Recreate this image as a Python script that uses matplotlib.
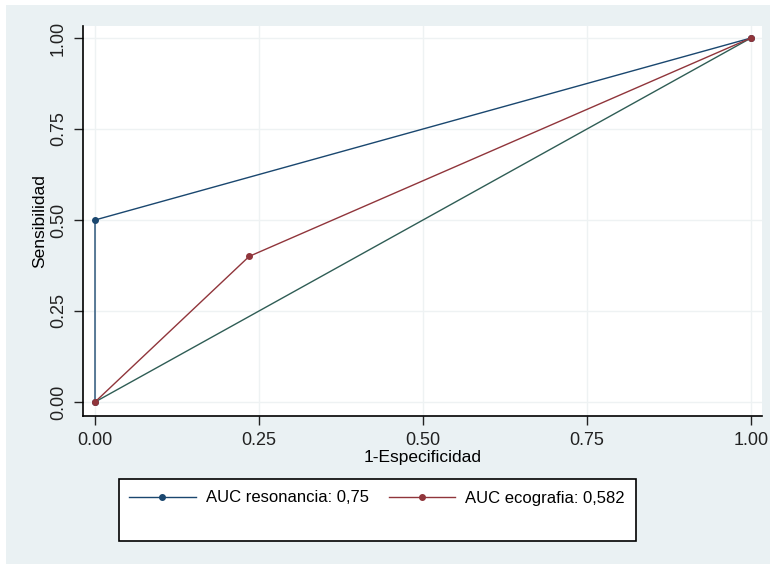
import matplotlib.pyplot as plt
from matplotlib.patches import Rectangle
from matplotlib.lines import Line2D

# ROC data
reso_x = [0.0, 0.0, 1.0]
reso_y = [0.0, 0.5, 1.0]
eco_x = [0.0, 0.235, 1.0]
eco_y = [0.0, 0.4, 1.0]
ref_x = [0.0, 1.0]
ref_y = [0.0, 1.0]
ticks = [0.0, 0.25, 0.5, 0.75, 1.0]
tick_labels = ["0.00", "0.25", "0.50", "0.75", "1.00"]
legend_labels = ["AUC resonancia: 0,75", "AUC ecografia: 0,582"]

navy = "#1a476f"
maroon = "#90353b"
refc = "#2f5d55"
bg = "#eaf1f3"

plt.rcParams["font.family"] = ["Liberation Sans", "DejaVu Sans"]

W, H = 770, 564
fig = plt.figure(figsize=(W / 100, H / 100), dpi=100)
fig.patch.set_facecolor("white")
fig.patches.append(Rectangle((6 / W, 0), 1 - 6 / W, 1 - 5 / H, transform=fig.transFigure,
                             facecolor=bg, edgecolor="none", zorder=-10))

ax = fig.add_axes([83 / W, 1 - 416 / H, (762 - 83) / W, (416 - 26) / H])
ax.set_facecolor("white")
ax.set_xlim(-0.0183, 1.0168)
ax.set_ylim(-0.0385, 1.033)

for t in ticks:
    ax.axhline(t, color="#eef2f3", lw=1, zorder=0)
    ax.axvline(t, color="#eef2f3", lw=1, zorder=0)

ax.plot(ref_x, ref_y, color=refc, lw=1.0, zorder=2)
ax.plot(reso_x, reso_y, color=navy, lw=1.0, marker="o", ms=4, zorder=3)
ax.plot(eco_x, eco_y, color=maroon, lw=1.0, marker="o", ms=4, zorder=4)

for s in ["top", "right"]:
    ax.spines[s].set_visible(False)
ax.spines["left"].set_linewidth(1.2)
ax.spines["bottom"].set_linewidth(1.2)

ax.set_xticks(ticks)
ax.set_xticklabels(tick_labels, fontsize=13)
ax.set_yticks(ticks)
ax.set_yticklabels(tick_labels, fontsize=13, rotation=90, va="center")
ax.tick_params(length=6.5, width=1, color="#222222", labelcolor="#222222", pad=5)

ax.set_xlabel("1-Especificidad", fontsize=12.5, labelpad=1)
ax.set_ylabel("Sensibilidad", fontsize=12.5, labelpad=2)

# legend box (Stata style, text sits in the upper part)
fig.patches.append(Rectangle((119 / W, 1 - 541 / H), (636 - 119) / W, (541 - 479) / H,
                             transform=fig.transFigure, facecolor="white",
                             edgecolor="black", lw=1.2, zorder=5))
handles = [Line2D([], [], color=navy, lw=1, marker="o", ms=4),
           Line2D([], [], color=maroon, lw=1, marker="o", ms=4)]
leg = fig.legend(handles, legend_labels, ncol=2, loc="center",
                 bbox_to_anchor=(377 / W, 1 - 498 / H),
                 fontsize=12, frameon=False,
                 handlelength=4.0, handletextpad=0.6, columnspacing=1.2)
leg.set_zorder(6)

fig.savefig("out.png", dpi=100, facecolor=fig.get_facecolor())
